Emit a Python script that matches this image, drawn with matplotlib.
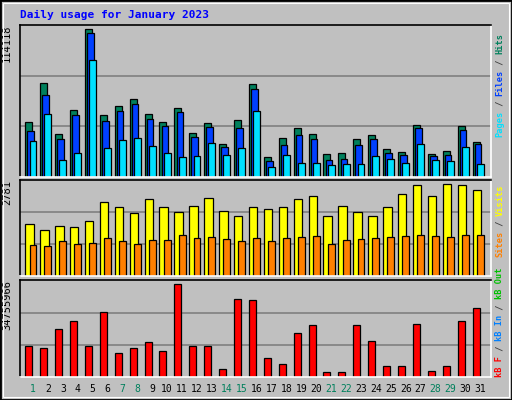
import matplotlib.pyplot as plt
from matplotlib.patches import Rectangle

days = list(range(1, 32))
weekend = [1, 7, 8, 14, 15, 21, 22, 28, 29]

hits = [42600, 72810, 33310, 51380, 114118, 48030, 55000, 60420, 48800, 42600, 53450,
        34080, 41830, 25560, 44150, 72040, 15490, 30210, 37950, 33310, 17820, 18590,
        29430, 32530, 21690, 19370, 40280, 17820, 20140, 39500, 27110]
files = [35120, 63520, 29430, 48030, 111030, 43380, 51120, 56550, 44930, 39500, 50350,
         30980, 38730, 23240, 37960, 68160, 12390, 24790, 32530, 29430, 13170, 13940,
         24790, 29430, 18590, 17040, 37960, 16270, 17040, 36410, 25560]
pages = [27890, 48800, 13170, 18590, 90630, 22460, 28660, 30210, 24010, 18590, 15490,
         16270, 26340, 17040, 22460, 51120, 7750, 17040, 10840, 10840, 9300, 10070,
         10070, 16270, 13940, 10840, 25560, 13170, 12390, 23240, 10070]
visits = [1567, 1385, 1506, 1476, 1658, 2234, 2083, 1901, 2325, 2083, 1931, 2113, 2356,
          1961, 1810, 2083, 2022, 2083, 2325, 2416, 1810, 2113, 1931, 1810, 2083, 2477,
          2750, 2416, 2781, 2750, 2598]
sites = [930, 900, 1051, 960, 991, 1142, 1051, 960, 1082, 1082, 1233, 1142, 1173, 1112,
         1051, 1142, 1051, 1142, 1173, 1203, 960, 1082, 1112, 1142, 1173, 1203, 1233,
         1203, 1173, 1233, 1233]
kbytes = [11543000, 10782000, 18012000, 21057000, 11543000, 24481000, 8879000, 10782000,
          13065000, 9640000, 34755966, 11543000, 11543000, 3171000, 29429000, 29048000,
          6977000, 4693000, 16490000, 19534000, 2030000, 2030000, 19534000, 13446000,
          4313000, 4313000, 19915000, 2410000, 4313000, 21057000, 26004000]

W, H = 512, 400
BG = '#C0C0C0'
GREEN = '#00805C'
MONO = 'DejaVu Sans Mono'

fig = plt.figure(figsize=(W / 100, H / 100), dpi=100, facecolor=BG)

# outer border and bevel
fig.patches.append(Rectangle((0, 0), 1, 1, transform=fig.transFigure, fill=False,
                             edgecolor='black', lw=2))
fig.patches.append(Rectangle((3 / W, 3 / H), 1 - 6 / W, 1 - 6 / H, transform=fig.transFigure,
                             fill=False, edgecolor='white', lw=0.8))


def panel(top, bottom, ymax_scale, maxval):
    ax = fig.add_axes([20.3 / W, 1 - bottom / H, (491 - 20.3) / W, (bottom - top) / H])
    ax.set_facecolor(BG)
    ax.set_xlim(0.148, 31.72)
    ymax = maxval * ymax_scale
    ax.set_ylim(0, ymax)
    for g in (ymax / 3, 2 * ymax / 3):
        ax.axhline(g, color='#808080', lw=1.2, zorder=0)
    ax.set_xticks([])
    ax.set_yticks([])
    for s in ('left', 'top'):
        ax.spines[s].set_color('black')
    for s in ('right', 'bottom'):
        ax.spines[s].set_color('white')
    for s in ax.spines.values():
        s.set_linewidth(1.2)
    ax.text(-0.028, 1.0, str(maxval), transform=ax.transAxes, rotation=90, ha='center',
            va='top', family=MONO, fontsize=7.5)
    return ax


def bars(ax, vals, off0, off1, color):
    ax.bar([d + off0 for d in days], vals, width=off1 - off0, align='edge', color=color,
           edgecolor='black', linewidth=0.9, zorder=2)


ax1 = panel(25, 176.7, 455 / 442, 114118)
bars(ax1, hits, -0.52, -0.05, GREEN)
bars(ax1, files, -0.37, 0.07, '#0040FF')
bars(ax1, pages, -0.23, 0.23, '#00E0FF')

ax2 = panel(180.3, 276, 287 / 275, 2781)
bars(ax2, visits, -0.52, 0.05, '#FFFF00')
bars(ax2, sites, -0.23, 0.23, '#FF8000')

ax3 = panel(280.3, 377, 286 / 274, 34755966)
bars(ax3, kbytes, -0.52, -0.05, '#FF0000')

# day labels
for d in days:
    x = (33 + (d - 1) * 14.91) / W
    fig.text(x, 1 - 389 / H, str(d), ha='center', va='center', family=MONO, fontsize=7,
             color=GREEN if d in weekend else 'black')

fig.text(20 / W, 1 - 15 / H, 'Daily usage for January 2023', ha='left', va='center',
         family=MONO, fontsize=8, weight='bold', color='#0000FF')

SIDE_FS = 6.2


def side_label(pieces, y_bottom):
    y = y_bottom
    step = SIDE_FS * 0.602 * 100 / 72
    for txt, col in pieces:
        fig.text(500 / W, 1 - y / H, txt, rotation=90, ha='center', va='bottom',
                 family=MONO, fontsize=SIDE_FS, weight='bold', color=col)
        y -= step * len(txt)


side_label([('Pages', '#00E0FF'), (' / ', '#404040'), ('Files', '#0040FF'),
            (' / ', '#404040'), ('Hits', GREEN)], 137)
side_label([('Sites', '#FF8000'), (' / ', '#404040'), ('Visits', '#FFFF00')], 257)
side_label([('kB F', '#FF0000'), (' / ', '#404040'), ('kB In', '#0080FF'),
            (' / ', '#404040'), ('kB Out', '#00C000')], 377)

fig.savefig('out.png', dpi=100, facecolor=BG)
